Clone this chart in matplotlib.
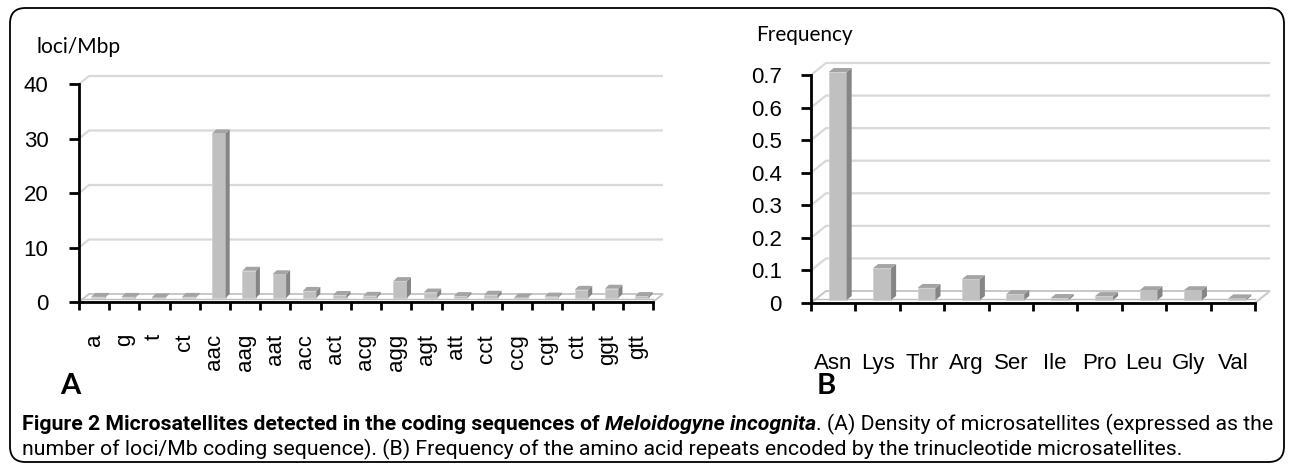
import matplotlib
matplotlib.use('Agg')
import matplotlib.pyplot as plt
from matplotlib.patches import Polygon, FancyBboxPatch
from matplotlib import font_manager as fm

# ---------------- data ----------------
motifs = ['a', 'g', 't', 'ct', 'aac', 'aag', 'aat', 'acc', 'act', 'acg',
          'agg', 'agt', 'att', 'cct', 'ccg', 'cgt', 'ctt', 'ggt', 'gtt']
density = [0.2, 0.2, 0.1, 0.2, 30.2, 5.0, 4.35, 1.3, 0.55, 0.4,
           3.1, 1.0, 0.35, 0.6, 0.1, 0.25, 1.5, 1.7, 0.35]
yticks_a = [0, 10, 20, 30, 40]
yticklabels_a = ['0', '10', '20', '30', '40']

amino = ['Asn', 'Lys', 'Thr', 'Arg', 'Ser', 'Ile', 'Pro', 'Leu', 'Gly', 'Val']
freq = [0.70, 0.098, 0.037, 0.064, 0.018, 0.006, 0.012, 0.03, 0.03, 0.005]
yticks_b = [0, 0.1, 0.2, 0.3, 0.4, 0.5, 0.6, 0.7]
yticklabels_b = ['0', '0.1', '0.2', '0.3', '0.4', '0.5', '0.6', '0.7']

caption_bold = 'Figure 2 Microsatellites detected in the coding sequences of '
caption_bold_italic = 'Meloidogyne incognita'
caption_rest1 = '. (A) Density of microsatellites (expressed as the'
caption_line2 = ('number of loci/Mb coding sequence). (B) Frequency of the amino acid '
                 'repeats encoded by the trinucleotide microsatellites.')

# ---------------- fonts ----------------
names = {f.name for f in fm.fontManager.ttflist}
def pick(*cands):
    for c in cands:
        if c in names:
            return c
    return 'DejaVu Sans'
ARIAL = pick('Liberation Sans', 'Arial')
CALIBRI = pick('Lato', 'Open Sans', 'Liberation Sans')
NARROW = pick('Liberation Sans Narrow', 'DejaVu Sans Condensed', 'Roboto', 'Liberation Sans')

W, H = 1290, 469
fig = plt.figure(figsize=(W / 100, H / 100), dpi=100)
renderer = fig.canvas.get_renderer()

def fx(px):
    return px / W

def fy(py):
    return 1 - py / H

# border
fig.patches.append(FancyBboxPatch((fx(10), fy(462)), fx(1284) - fx(10), fy(8) - fy(462),
                                  boxstyle='round,pad=0,rounding_size=0.012',
                                  transform=fig.transFigure, fc='none', ec='black',
                                  lw=1.3, mutation_aspect=W / H))

TICK_FS = 16


def panel(x0, x1, ytop, ybot, cats, vals, ymax, yticks, ylabs, back, bar_w_px,
          bar_shift, bar_depth, rot, xpad, ypad):
    ax = fig.add_axes([fx(x0), fy(ybot), (x1 - x0) / W, (ybot - ytop) / H])
    n = len(cats)
    ax.set_xlim(0, n)
    ax.set_ylim(0, ymax)
    ax.patch.set_visible(False)
    ux = n / (x1 - x0)
    uy = ymax / (ybot - ytop)
    BX, BY = back[0] * ux, back[1] * uy
    grid_c = '#d9d9d9'
    # gridlines on back wall
    for v in yticks[1:]:
        ax.plot([0, BX, n + BX], [v, v + BY, v + BY], color=grid_c, lw=1.6,
                clip_on=False, zorder=1, solid_capstyle='butt')
    # floor
    ax.add_patch(Polygon([(0, 0), (n, 0), (n + BX, BY), (BX, BY)], closed=True,
                         fc='white', ec='#c8c8c8', lw=1.4, clip_on=False, zorder=1.5))
    ax.plot([0, n], [0.35 * BY, 0.35 * BY], color='#bdbdbd', lw=1.0, clip_on=False, zorder=1.6)
    # bars
    w = bar_w_px * ux
    sx, sy = bar_shift[0] * ux, bar_shift[1] * uy
    ddx, ddy = bar_depth[0] * ux, bar_depth[1] * uy
    centers = [i + 0.5 + sx for i in range(n)]
    ax.bar(centers, vals, width=w, bottom=sy, color='#c0c0c0', edgecolor='#cfcfcf',
           lw=0.5, zorder=3, clip_on=False)
    for c, v in zip(centers, vals):
        l, r = c - w / 2, c + w / 2
        b, t = sy, sy + v
        ax.add_patch(Polygon([(r, b), (r + ddx, b + ddy), (r + ddx, t + ddy), (r, t)],
                             closed=True, fc='#858585', ec='none', zorder=3, clip_on=False))
        ax.add_patch(Polygon([(l, t), (r, t), (r + ddx, t + ddy), (l + ddx, t + ddy)],
                             closed=True, fc='#a4a4a4', ec='none', zorder=3, clip_on=False))
    # axes
    for s in ['top', 'right']:
        ax.spines[s].set_visible(False)
    for s in ['left', 'bottom']:
        ax.spines[s].set_linewidth(2)
        ax.spines[s].set_color('black')
        ax.spines[s].set_zorder(4)
    ax.set_yticks(yticks)
    ax.set_yticklabels(ylabs, family=ARIAL, fontsize=TICK_FS)
    ax.tick_params(axis='y', length=7, width=2, pad=ypad, direction='out')
    ax.set_xticks([i + 0.5 for i in range(n)])
    ax.set_xticklabels(cats, family=ARIAL, fontsize=TICK_FS, rotation=rot)
    ax.set_xticks(list(range(n + 1)), minor=True)
    ax.tick_params(axis='x', which='major', length=0, pad=xpad)
    ax.tick_params(axis='x', which='minor', length=6, width=2, direction='out')
    return ax


axA = panel(79, 653, 84, 302, motifs, density, 40, yticks_a, yticklabels_a,
            back=(10, 8), bar_w_px=13.5, bar_shift=(4, 4), bar_depth=(4, 4),
            rot=90, xpad=23, ypad=15)
axB = panel(811, 1255, 75, 303, amino, freq, 0.7, yticks_b, yticklabels_b,
            back=(15, 12), bar_w_px=18, bar_shift=(4.5, 3), bar_depth=(5, 4),
            rot=0, xpad=36, ypad=14)


def fit_text(s, x0, x1, yc, family, weight='normal', style='normal', size=12):
    t = fig.text(fx(x0), fy(yc), s, family=family, weight=weight, style=style,
                 fontsize=size, ha='left', va='center')
    bb = t.get_window_extent(renderer)
    t.set_fontsize(size * (x1 - x0) / bb.width)
    return t

fit_text('loci/Mbp', 37, 122, 47, CALIBRI, size=14)
fit_text('Frequency', 756, 853, 35, CALIBRI, size=14)
fig.text(fx(60), fy(386), 'A', family=CALIBRI, weight='bold', fontsize=21, ha='left', va='center')
fig.text(fx(817), fy(386), 'B', family=CALIBRI, weight='bold', fontsize=21, ha='left', va='center')

# caption
def caption_line(pieces, x0, yc, size):
    x = x0
    for s, wgt, sty in pieces:
        t = fig.text(fx(x), fy(yc), s, family=NARROW, weight=wgt, style=sty,
                     fontsize=size, ha='left', va='center')
        bb = t.get_window_extent(renderer)
        x = bb.x1
    return x - x0

line1 = [(caption_bold, 'bold', 'normal'), (caption_bold_italic, 'bold', 'italic'),
         (caption_rest1, 'normal', 'normal')]
# measure and fit line 1 to the box width
tmp = []
x = 0
for s, wgt, sty in line1:
    t = fig.text(0, 0, s, family=NARROW, weight=wgt, style=sty, fontsize=12)
    x += t.get_window_extent(renderer).width
    tmp.append(t)
for t in tmp:
    t.remove()
cap_size = 12 * (1276 - 22) / x
caption_line(line1, 22, 424, cap_size)
caption_line([(caption_line2, 'normal', 'normal')], 22, 449, cap_size)

fig.savefig('out.png', dpi=100)
